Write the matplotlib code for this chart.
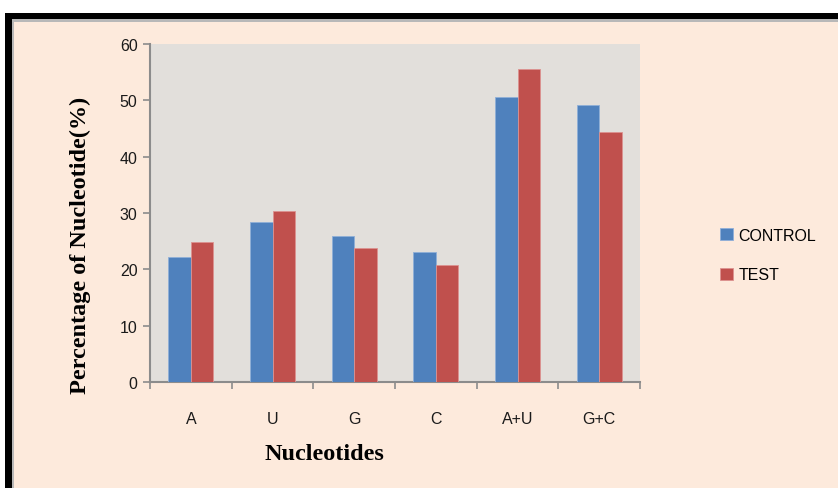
import numpy as np
import matplotlib.pyplot as plt
from matplotlib.patches import Rectangle

# Data
categories = ['A', 'U', 'G', 'C', 'A+U', 'G+C']
control = [22.2, 28.4, 26.0, 23.1, 50.6, 49.2]
test = [24.9, 30.3, 23.7, 20.8, 55.6, 44.3]
y_ticks = [0, 10, 20, 30, 40, 50, 60]

W, H = 838, 489
fig = plt.figure(figsize=(W / 100, H / 100), dpi=100)
fig.patch.set_facecolor('white')

# peach chart area with black frame (top/left), cut off at right/bottom
fig.add_artist(Rectangle((5 / W, 0), 1, 1 - 14 / H, transform=fig.transFigure,
                         facecolor='black', edgecolor='none', zorder=0))
fig.add_artist(Rectangle((12 / W, 0), 1, 1 - 20 / H, transform=fig.transFigure,
                         facecolor='#b8b8b8', edgecolor='none', zorder=0))
fig.add_artist(Rectangle((14 / W, 0), 1, 1 - 23 / H, transform=fig.transFigure,
                         facecolor='#fdeadc', edgecolor='none', zorder=0))

# plot area: x 150..640, y 45..383 (pixels)
ax = fig.add_axes([150 / W, 1 - 383 / H, 490 / W, 338 / H])
ax.set_facecolor('#e2dfdb')

tick_font = {'family': 'Liberation Sans', 'size': 11.5}

x = np.arange(len(categories))
bw = 0.276
ax.bar(x - bw / 2, control, bw, color='#4f81bd', edgecolor='#8fafd8', linewidth=0.6,
       label='CONTROL', zorder=3)
ax.bar(x + bw / 2, test, bw, color='#c0504d', edgecolor='#dc9290', linewidth=0.6,
       label='TEST', zorder=3)

ax.set_xlim(-0.5, len(categories) - 0.5)
ax.set_ylim(0, 60)
ax.set_yticks(y_ticks)
ax.set_yticklabels([str(v) for v in y_ticks], fontdict=tick_font, color='#1a1a1a')
ax.set_xticks(x)
ax.set_xticklabels(categories, fontdict=tick_font, color='#1a1a1a')
ax.tick_params(axis='x', length=0, pad=21)
ax.set_xticks(np.arange(-0.5, len(categories)), minor=True)
ax.tick_params(axis='x', which='minor', length=5, color='#8c8c8c', width=1.2)
ax.tick_params(axis='y', length=5, color='#8c8c8c', width=1.2, pad=4)

for s in ['top', 'right']:
    ax.spines[s].set_visible(False)
for s in ['left', 'bottom']:
    ax.spines[s].set_color('#8c8c8c')
    ax.spines[s].set_linewidth(1.5)

fig.text(324 / W, 1 - 455 / H, 'Nucleotides', ha='center', va='center',
         fontfamily='Liberation Serif', fontweight='bold', fontsize=17.5)
fig.text(80 / W, 1 - 245 / H, 'Percentage of Nucleotide(%)', ha='center', va='center',
         rotation=90, fontfamily='Liberation Serif', fontweight='bold', fontsize=17.5)

leg = fig.legend(loc='center left', bbox_to_anchor=(706 / W, 1 - 256 / H), frameon=False,
                 prop=tick_font, handlelength=0.8, handleheight=0.8,
                 handletextpad=0.35, labelspacing=1.55)

fig.savefig('out.png', dpi=100)
